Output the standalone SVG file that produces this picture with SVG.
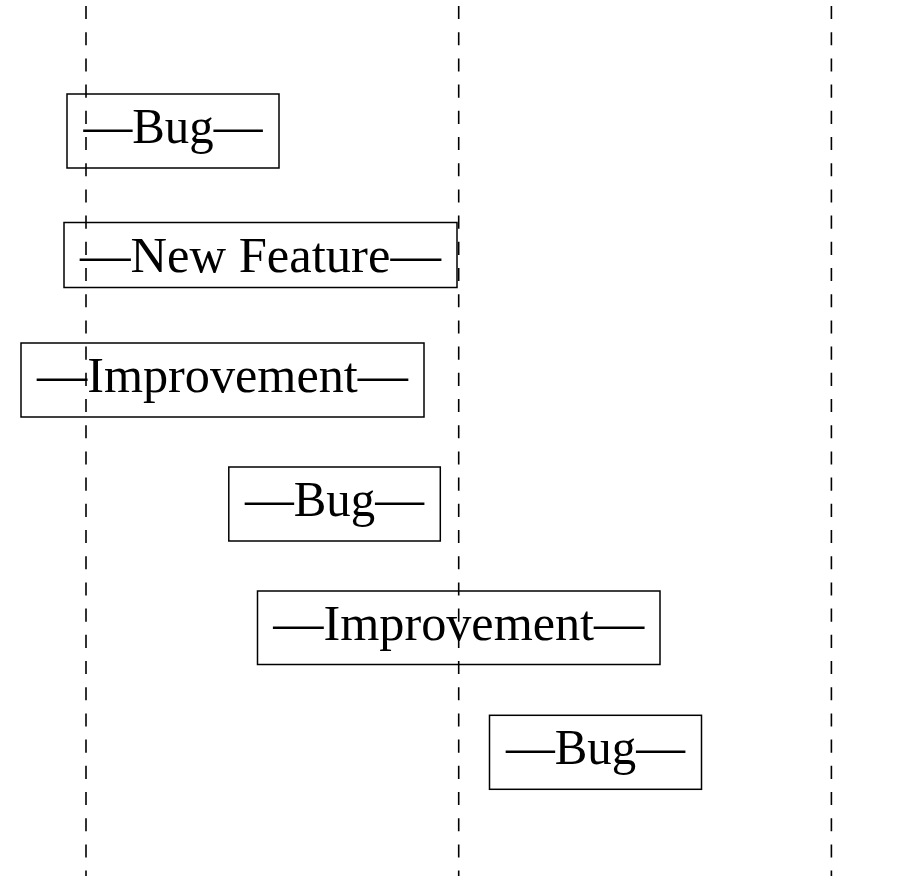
<svg xmlns="http://www.w3.org/2000/svg" width="907" height="884" viewBox="0 0 907 884">
<style>
.lane{stroke:#000;stroke-width:1.6;stroke-dasharray:13.1 13.1;fill:none}
.box{fill:none;stroke:#000;stroke-width:1.5}
.lbl{font-family:"Liberation Serif","Times New Roman",serif;font-size:50px;fill:#000;text-anchor:middle}
</style>
<rect width="907" height="884" fill="#fff"/>
<g id="connectors">
<line class="lane" x1="86" y1="6" x2="86" y2="876"/>
<line class="lane" x1="458.7" y1="6" x2="458.7" y2="876"/>
<line class="lane" x1="831.4" y1="6" x2="831.4" y2="876"/>
</g>
<g id="n1">
<rect class="box" x="67" y="94" width="212" height="74"/>
<text class="lbl" x="173" y="143" textLength="179" lengthAdjust="spacingAndGlyphs">—Bug—</text>
</g>
<g id="n2">
<rect class="box" x="64" y="222.5" width="393" height="65"/>
<text class="lbl" x="260.5" y="272" textLength="361" lengthAdjust="spacingAndGlyphs">—New Feature—</text>
</g>
<g id="n3">
<rect class="box" x="21" y="343" width="403" height="74"/>
<text class="lbl" x="222.5" y="392" textLength="371" lengthAdjust="spacingAndGlyphs">—Improvement—</text>
</g>
<g id="n4">
<rect class="box" x="228.8" y="467" width="211.5" height="74"/>
<text class="lbl" x="334.5" y="516" textLength="179" lengthAdjust="spacingAndGlyphs">—Bug—</text>
</g>
<g id="n5">
<rect class="box" x="257.5" y="591" width="402.5" height="73.5"/>
<text class="lbl" x="458.8" y="640" textLength="371" lengthAdjust="spacingAndGlyphs">—Improvement—</text>
</g>
<g id="n6">
<rect class="box" x="489.5" y="715.3" width="212" height="74"/>
<text class="lbl" x="595.5" y="764.3" textLength="179" lengthAdjust="spacingAndGlyphs">—Bug—</text>
</g>
</svg>
